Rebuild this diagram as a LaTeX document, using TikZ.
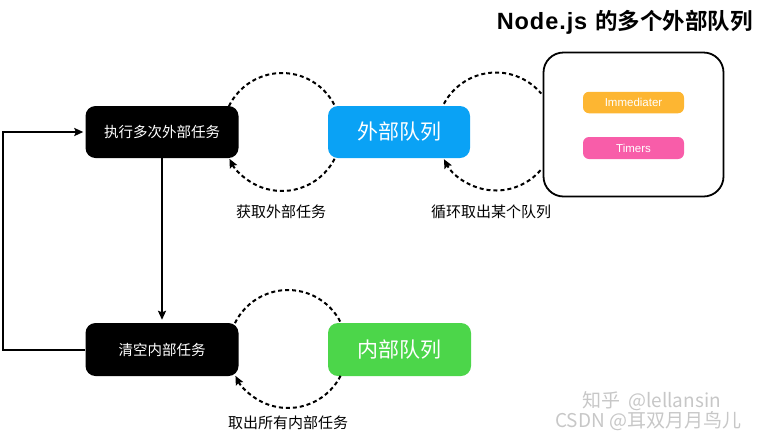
\documentclass[tikz,border=0pt]{standalone}
\usepackage{fontspec}
\setmainfont{Noto Sans CJK SC}
\newfontfamily\cjk{Noto Sans CJK SC}
\newfontfamily\cjkbold{Noto Sans CJK SC Bold}
\newfontfamily\lat{Liberation Sans}
\newfontfamily\latwide{Liberation Sans}[LetterSpace=4]
\usetikzlibrary{arrows.meta}
\definecolor{qblue}{HTML}{0AA2F5}
\definecolor{qgreen}{HTML}{4CD64A}
\definecolor{qorange}{HTML}{FDB632}
\definecolor{qpink}{HTML}{F85DA9}
\tikzset{
  task/.style={draw=none, fill=black, rounded corners=10pt, text=white, minimum width=153pt, minimum height=52pt, inner sep=0pt, font=\cjk\fontsize{14.5}{16}\selectfont},
  queue/.style={draw=none, rounded corners=10pt, text=white, minimum width=142pt, minimum height=52pt, inner sep=0pt, font=\cjk\fontsize{21}{24}\selectfont},
  pill/.style={draw=none, rounded corners=6pt, text=white, minimum width=101pt, minimum height=21.5pt, inner sep=0pt, font=\lat\fontsize{11.5}{13}\selectfont},
  lbl/.style={inner sep=0pt, font=\cjk\fontsize{15}{17}\selectfont},
  dashline/.style={line width=2pt, dash pattern=on 4pt off 3pt},
  solidline/.style={line width=2pt},
  tip/.style={-{Stealth[length=9pt,width=8pt,inset=1.5pt]}},
  wm/.style={inner sep=0pt, text=black!22, font=\cjk\fontsize{19}{21}\selectfont}
}
\begin{document}
\begin{tikzpicture}[x=1pt,y=1pt]
\useasboundingbox (0,0) rectangle (762,-440);
% title
\node[inner sep=0pt, anchor=east] (title) at (753,-22) {{\latwide\bfseries\fontsize{23.5}{25}\selectfont Node.js}\hspace{8pt}{\cjkbold\fontsize{22.5}{24}\selectfont 的多个外部队列}};
% boxes
\node[task] (exec) at (162,-132) {执行多次外部任务};
\node[queue, fill=qblue] (outer) at (399,-132) {外部队列};
\node[task, minimum height=53pt] (clear) at (162,-349.5) {清空内部任务};
\node[queue, fill=qgreen, minimum width=143pt, minimum height=53pt] (inner) at (399.5,-349.5) {内部队列};
\node[draw=black, line width=1.8pt, rounded corners=20pt, minimum width=180pt, minimum height=144pt, inner sep=0pt] (multi) at (633.5,-124.5) {};
\node[pill, fill=qorange] (imm) at (633.5,-102.5) {Immediater};
\node[pill, fill=qpink, minimum height=22pt] (timers) at (633.5,-148) {Timers};
% labels
\node[lbl] (l1) at (281,-212) {获取外部任务};
\node[lbl] (l2) at (491,-212) {循环取出某个队列};
\node[lbl] (l3) at (288,-423) {取出所有内部任务};
% circle centres
\coordinate (c1) at (282,-132);
\coordinate (c2) at (496,-131.5);
\coordinate (c3) at (288,-349);
% dashed loops
\draw[dashline] ([shift={(154:59)}]c1) arc[start angle=154, end angle=26, radius=59];
\draw[dashline, tip] ([shift={(-27:59)}]c1) arc[start angle=-27, end angle=-153, radius=59];
\draw[dashline] ([shift={(152:59)}]c2) arc[start angle=152, end angle=40, radius=59];
\draw[dashline, tip] ([shift={(-41:59)}]c2) arc[start angle=-41, end angle=-152, radius=59];
\draw[dashline] ([shift={(154:59)}]c3) arc[start angle=154, end angle=26, radius=59];
\draw[dashline, tip] ([shift={(-27:59)}]c3) arc[start angle=-27, end angle=-153, radius=59];
% solid connectors
\draw[solidline, tip, shorten >=3pt] (exec.south) -- (clear.north);
\draw[solidline, tip, shorten >=2pt] (clear.west) -- ++(-82,0) |- (exec.west);
% watermark
\node[wm, anchor=west] (wm1) at (582,-401) {知乎\hspace{8pt}@lellansin};
\node[wm, anchor=west] (wm2) at (555,-421) {CSDN @耳双月月鸟儿};
\end{tikzpicture}
\end{document}
